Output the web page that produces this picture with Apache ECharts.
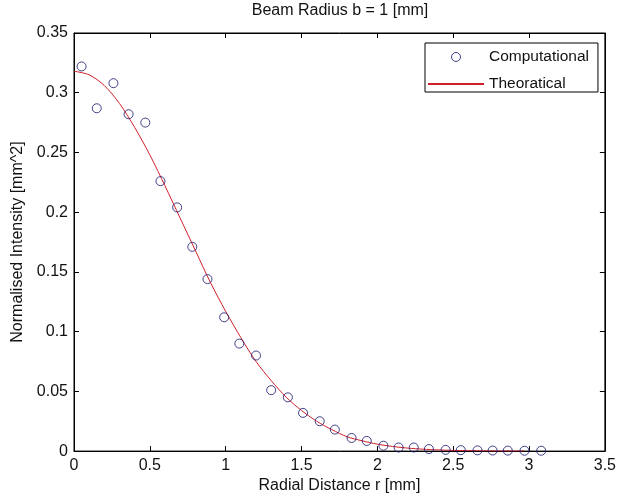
<!DOCTYPE html>
<html>
<head>
<meta charset="utf-8">
<script src="https://cdn.jsdelivr.net/npm/echarts@6/dist/echarts.min.js"></script>
<style>html,body{margin:0;padding:0;background:#fff;}#c{width:619px;height:499px;}</style>
</head>
<body>
<div id="c"></div>
<script>
// Computational (scatter) points
var compR = [0.05, 0.15, 0.26, 0.36, 0.47, 0.57, 0.68, 0.78, 0.88, 0.99,
             1.09, 1.20, 1.30, 1.41, 1.51, 1.62, 1.72, 1.83, 1.93, 2.04,
             2.14, 2.24, 2.34, 2.45, 2.55, 2.66, 2.76, 2.86, 2.97, 3.08];
var compI = [0.322, 0.287, 0.308, 0.282, 0.275, 0.226, 0.204, 0.171, 0.144, 0.112,
             0.090, 0.080, 0.051, 0.045, 0.032, 0.025, 0.018, 0.011, 0.0085, 0.0045,
             0.003, 0.003, 0.0017, 0.001, 0.0008, 0.0006, 0.0005, 0.0004, 0.0003, 0.0003];
// Theoretical curve
var theoR = [0, 0.1, 0.2, 0.3, 0.4, 0.5, 0.6, 0.7, 0.8, 0.9,
             1.0, 1.1, 1.2, 1.3, 1.4, 1.5, 1.6, 1.7, 1.8, 1.9,
             2.0, 2.1, 2.2, 2.3, 2.4, 2.5, 2.6, 2.7, 2.8, 2.9, 2.97];
var theoI = [0.318, 0.315, 0.306, 0.291, 0.271, 0.248, 0.222, 0.195, 0.168, 0.141,
             0.117, 0.095, 0.075, 0.059, 0.045, 0.034, 0.025, 0.018, 0.012, 0.0086,
             0.0058, 0.0039, 0.0025, 0.0016, 0.001, 0.0006, 0.0004, 0.0002, 0.0001, 0.0001, 0.0001];
var xTicks = ['0', '0.5', '1', '1.5', '2', '2.5', '3', '3.5'];
var yTicks = ['0', '0.05', '0.1', '0.15', '0.2', '0.25', '0.3', '0.35'];

var FONT = 'Liberation Sans, Arial, sans-serif';
var FS = 16;
var compData = compR.map(function (r, i) { return [r, compI[i]]; });
var theoData = theoR.map(function (r, i) { return [r, theoI[i]]; });

var chart = echarts.init(document.getElementById('c'), null, {renderer: 'canvas'});
var axisLine = {show: true, onZero: false, lineStyle: {color: '#000', width: 1}};
var tick = {show: true, inside: true, length: 5, lineStyle: {color: '#000', width: 1}};
chart.setOption({
  animation: false,
  backgroundColor: '#fff',
  title: {
    text: 'Beam Radius b = 1 [mm]',
    left: 340, top: 3, textAlign: 'center', padding: 0,
    textStyle: {fontFamily: FONT, fontSize: FS, fontWeight: 'normal', color: '#111'}
  },
  grid: {left: 74, right: 13, top: 33, bottom: 47, show: true, borderColor: '#000', borderWidth: 1},
  legend: {
    orient: 'vertical',
    left: 425, top: 43,
    padding: [6, 9, 0, 2],
    itemWidth: 56, itemHeight: 9, itemGap: 11,
    backgroundColor: '#fff',
    borderColor: '#000', borderWidth: 1, borderRadius: 0,
    textStyle: {fontFamily: FONT, fontSize: 15.5, color: '#111'},
    data: [
      {name: 'Computational', itemStyle: {color: 'rgba(255,255,255,0)', borderColor: '#14146e', borderWidth: 1}},
      {name: 'Theoratical', itemStyle: {color: 'rgba(0,0,0,0)', borderWidth: 0, opacity: 0}}
    ]
  },
  xAxis: [{
    type: 'value', min: 0, max: 3.5, interval: 0.5,
    name: 'Radial Distance r [mm]', nameLocation: 'middle', nameGap: 25,
    nameTextStyle: {fontFamily: FONT, fontSize: FS, color: '#111'},
    axisLine: axisLine, axisTick: tick, splitLine: {show: false},
    axisLabel: {fontFamily: FONT, fontSize: FS, color: '#111', margin: 6,
      formatter: function (v) { return xTicks[Math.round(v / 0.5)]; }}
  }, {
    type: 'value', min: 0, max: 3.5, interval: 0.5, position: 'top',
    axisLine: axisLine, axisTick: tick, splitLine: {show: false}, axisLabel: {show: false}
  }],
  yAxis: [{
    type: 'value', min: 0, max: 0.35, interval: 0.05,
    name: 'Normalised Intensity [mm^2]', nameLocation: 'middle', nameGap: 41,
    nameTextStyle: {fontFamily: FONT, fontSize: FS, color: '#111'},
    axisLine: axisLine, axisTick: tick, splitLine: {show: false},
    axisLabel: {fontFamily: FONT, fontSize: FS, color: '#111', margin: 6,
      formatter: function (v) { return yTicks[Math.round(v / 0.05)]; }}
  }, {
    type: 'value', min: 0, max: 0.35, interval: 0.05, position: 'right',
    axisLine: axisLine, axisTick: tick, splitLine: {show: false}, axisLabel: {show: false}
  }],
  series: [{
    name: 'Computational',
    type: 'scatter',
    data: compData,
    symbol: 'circle',
    symbolSize: 9,
    itemStyle: {color: 'rgba(255,255,255,0)', borderColor: '#14146e', borderWidth: 1},
    z: 3
  }, {
    name: 'Theoratical',
    type: 'line',
    data: theoData,
    smooth: 0.3,
    symbol: 'none',
    lineStyle: {color: '#d0202a', width: 1},
    itemStyle: {color: '#d0202a'},
    z: 2
  }]
});
</script>
</body>
</html>
